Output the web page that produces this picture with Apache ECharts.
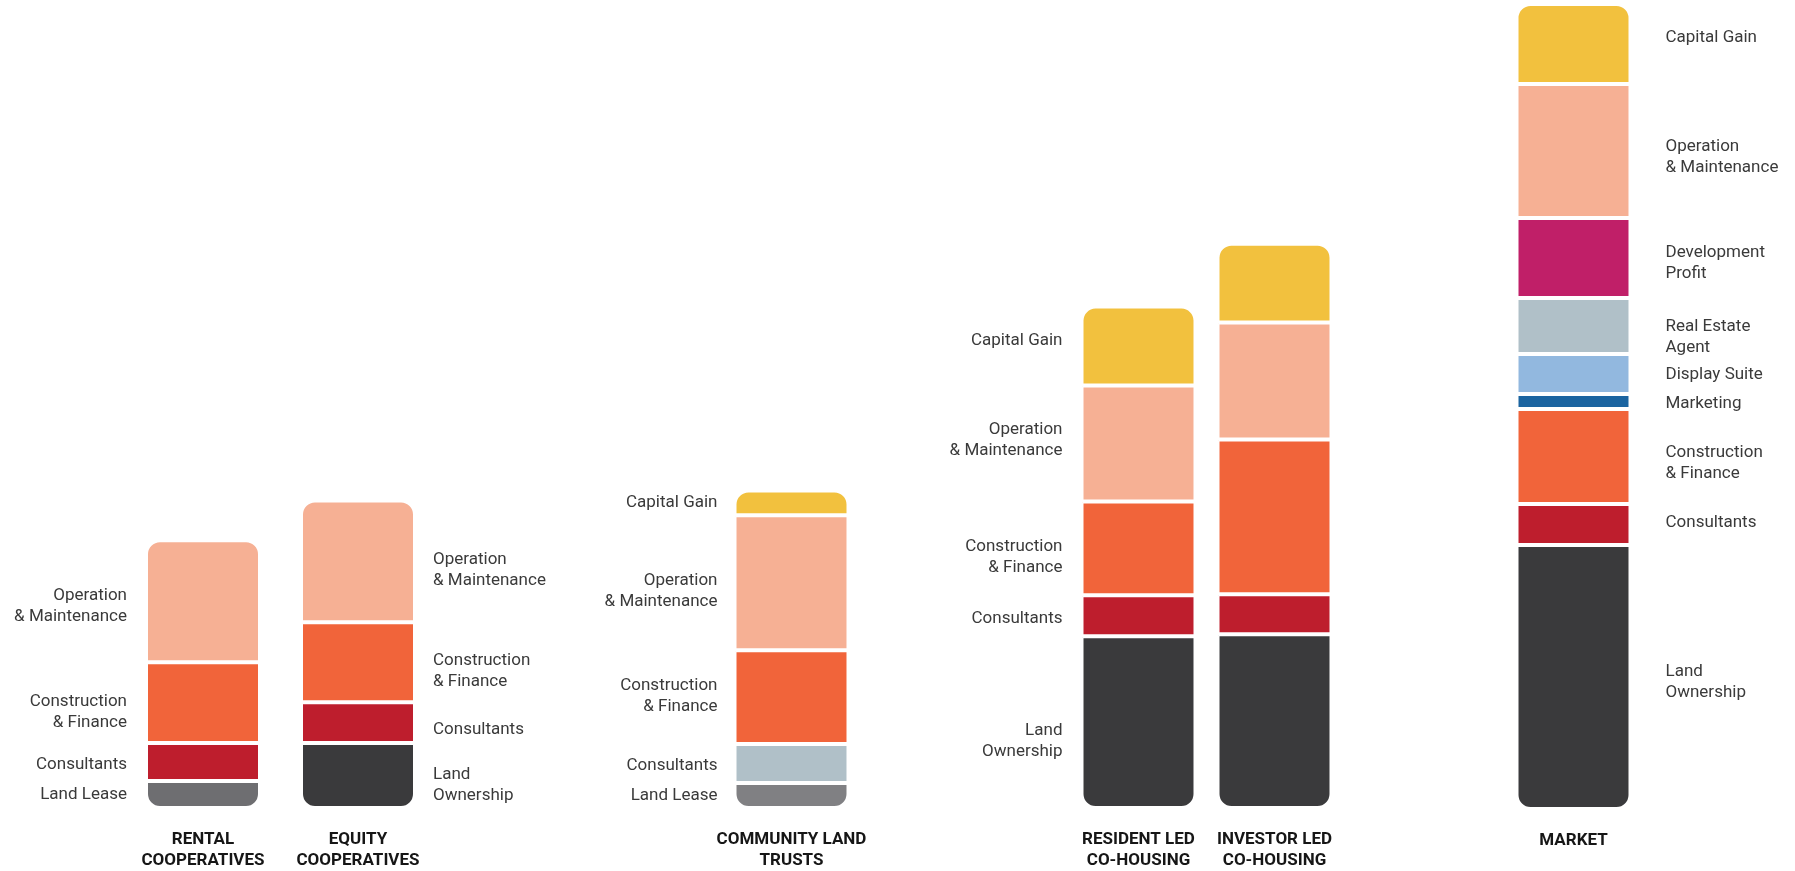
<!DOCTYPE html>
<html>
<head>
<meta charset="utf-8">
<script src="https://cdn.jsdelivr.net/npm/echarts@6/dist/echarts.min.js"></script>
<style>
html,body{margin:0;padding:0;background:#fff;}
#chart{width:1795px;height:871px;}
</style>
</head>
<body>
<div id="chart"></div>
<script>
// ---- data ----
const categories = ['RENTAL\nCOOPERATIVES', 'EQUITY\nCOOPERATIVES', 'COMMUNITY LAND\nTRUSTS', 'RESIDENT LED\nCO-HOUSING', 'INVESTOR LED\nCO-HOUSING', 'MARKET'];
const components = ['Land Lease', 'Land Ownership', 'Consultants', 'Construction & Finance', 'Marketing', 'Display Suite', 'Real Estate Agent', 'Development Profit', 'Operation & Maintenance', 'Capital Gain'];
const componentLabels = ['Land Lease', 'Land\nOwnership', 'Consultants', 'Construction\n& Finance', 'Marketing', 'Display Suite', 'Real Estate\nAgent', 'Development\nProfit', 'Operation\n& Maintenance', 'Capital Gain'];
const landLease        = [27, null, 25, null, null, null];
const landOwnership    = [null, 65, null, 172, 174, 264];
const consultants      = [38, 41, 39, 41, 40, 41];
const constructionFin  = [81, 80, 94, 94, 155, 95];
const marketing        = [null, null, null, null, null, 15];
const displaySuite     = [null, null, null, null, null, 40];
const realEstateAgent  = [null, null, null, null, null, 56];
const developmentProfit= [null, null, null, null, null, 80];
const operationMaint   = [122, 122, 135, 116, 117, 134];
const capitalGain      = [null, null, 25, 79, 79, 80];
const seriesValues = [landLease, landOwnership, consultants, constructionFin, marketing, displaySuite, realEstateAgent, developmentProfit, operationMaint, capitalGain];

// ---- styles / layout ----
const baseColors = ['#6e6e71', '#3a3a3c', '#be1e2d', '#f1643a', '#1b64a0', '#92b8df', '#b0c0c8', '#c01f68', '#f6b094', '#f2c13e'];
const colorOverride = { '2-0': '#808083', '2-2': '#b0c0c8' };
const centers = [203, 358, 791.5, 1138.5, 1274.5, 1573.5];
const labelSide = ['left', 'right', 'left', 'left', null, 'right'];
const labelDist = [19, 18, 17, 19, 0, 35];
// vertical nudges of the side labels (px), keyed "bar-component"
const labelNudge = {
  '0-8': 5, '0-3': 10, '0-2': 3,
  '1-8': 9, '1-3': 9, '1-2': 7, '1-1': 10,
  '2-8': 8, '2-3': -1, '2-2': 2,
  '3-9': -5, '3-8': -3, '3-3': 9, '3-2': 3, '3-1': 19,
  '5-9': -6, '5-8': 6, '5-7': 5, '5-6': 11, '5-5': 1, '5-4': 2, '5-3': 7, '5-2': -2, '5-1': 5
};
const BW = 114;
const plotH = 809;

const grids = [], xAxes = [], yAxes = [], series = [];
categories.forEach((cat, i) => {
  grids.push({ left: centers[i] - BW / 2, width: BW, top: 0, height: plotH });
  xAxes.push({
    type: 'category', gridIndex: i, data: [cat],
    axisLine: { show: false }, axisTick: { show: false },
    axisLabel: { show: true, interval: 0, margin: 21, fontFamily: 'Roboto', fontWeight: 'bold', fontSize: 17, lineHeight: 21, color: '#161616', align: 'center' }
  });
  yAxes.push({ type: 'value', gridIndex: i, min: 0, max: plotH, show: false, splitLine: { show: false } });
  const present = [];
  seriesValues.forEach((arr, j) => { if (arr[i] != null) present.push(j); });
  present.forEach((j, k) => {
    const isBottom = k === 0, isTop = k === present.length - 1;
    const r = [isTop ? 13 : 0, isTop ? 13 : 0, isBottom ? 13 : 0, isBottom ? 13 : 0];
    const color = colorOverride[i + '-' + j] || baseColors[j];
    series.push({
      type: 'bar', name: components[j], xAxisIndex: i, yAxisIndex: i, stack: 'bar' + i,
      barWidth: BW, silent: true,
      data: [{ value: seriesValues[j][i], itemStyle: { color: color, borderRadius: r, borderColor: '#ffffff', borderWidth: 2 } }],
      label: {
        show: !!labelSide[i], position: labelSide[i] || 'left', distance: labelDist[i],
        offset: [0, labelNudge[i + '-' + j] || 0],
        formatter: componentLabels[j], fontFamily: 'Roboto', fontSize: 17, lineHeight: 21, color: '#3a3a3a'
      }
    });
  });
});

const chart = echarts.init(document.getElementById('chart'), null, { renderer: 'canvas' });
chart.setOption({
  animation: false,
  backgroundColor: '#ffffff',
  grid: grids, xAxis: xAxes, yAxis: yAxes, series: series
});
</script>
</body>
</html>
